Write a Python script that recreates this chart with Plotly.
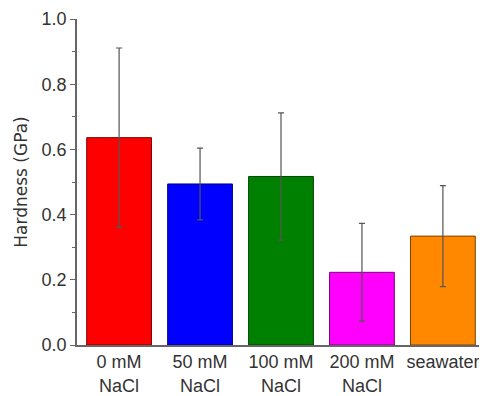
import plotly.graph_objects as go

categories = ["0 mM<br>NaCl", "50 mM<br>NaCl", "100 mM<br>NaCl", "200 mM<br>NaCl", "seawater"]
hardness = [0.636, 0.494, 0.517, 0.223, 0.334]
errors = [0.275, 0.11, 0.195, 0.15, 0.155]
colors = ["#ff0000", "#0000ff", "#008000", "#ff00ff", "#ff8800"]
outline = ["#7a0000", "#00007a", "#004000", "#7a007a", "#7a4100"]
y_ticks = [0.0, 0.2, 0.4, 0.6, 0.8, 1.0]

TICK_FONT = "Liberation Sans, Arial, sans-serif"
TITLE_FONT = "DejaVu Sans, Liberation Sans, Arial, sans-serif"

fig = go.Figure(go.Bar(
    x=list(range(len(categories))),
    y=hardness,
    width=0.8,
    marker=dict(color=colors, line=dict(color=outline, width=1)),
    error_y=dict(type="data", array=errors, visible=True, color="#555555",
                 thickness=1.2, width=3),
))

# page body adds an 8px offset, so the figure is sized 8px smaller
fig.update_layout(
    width=479, height=388,
    margin=dict(l=69, r=2, t=11, b=51, autoexpand=False),
    paper_bgcolor="white", plot_bgcolor="white",
    font=dict(family=TICK_FONT, size=18, color="#333333"),
    showlegend=False,
)
fig.update_xaxes(
    range=[-0.52, 4.52],
    tickmode="array", tickvals=list(range(len(categories))), ticktext=categories,
    showline=True, linecolor="#666666", linewidth=1.5,
    ticks="", showgrid=False, zeroline=False,
    tickfont=dict(family=TICK_FONT, size=18), automargin=False,
)
fig.update_yaxes(
    range=[0, 1.0],
    tickmode="array", tickvals=y_ticks, ticktext=[f"{v:.1f}" for v in y_ticks],
    showline=True, linecolor="#666666", linewidth=1.5,
    ticks="outside", ticklen=5, tickwidth=1.2, tickcolor="#666666",
    minor=dict(ticks="outside", dtick=0.1, ticklen=3, tickcolor="#666666", tickwidth=1),
    showgrid=False, zeroline=False,
    title=dict(text="Hardness (GPa)", font=dict(family=TITLE_FONT, size=17), standoff=10),
    tickfont=dict(family=TICK_FONT, size=18), automargin=False,
)

fig.write_html("out.html")
